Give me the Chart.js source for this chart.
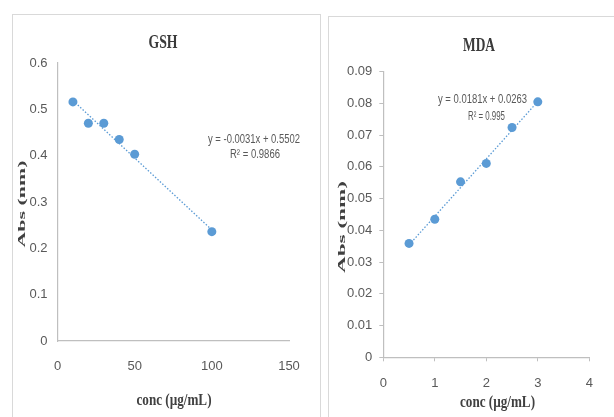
<!DOCTYPE html>
<html lang="en">
  <head>
    <meta charset="UTF-8" />
    <title>GSH and MDA calibration</title>
    <script src="https://cdn.jsdelivr.net/npm/chart.js@4.4.1/dist/chart.umd.min.js"></script>
    <style>
      html, body { margin: 0; padding: 0; background: #fff; }
      body { width: 614px; height: 417px; position: relative; overflow: hidden; }
      .panel { position: absolute; border: 1.5px solid #d9d9d9; border-bottom: none; }
      canvas { position: absolute; top: 0; }
    </style>
  </head>
  <body>
    <div class="panel" style="left:12px; top:14px; width:307px; height:420px;"></div>
    <div class="panel" style="left:328px; top:16px; width:300px; height:420px; border-right:none;"></div>
    <canvas id="gsh" width="322" height="417" style="left:0"></canvas>
    <canvas id="mda" width="292" height="417" style="left:322px"></canvas>

    <script>
      // GSH standard curve
      const gshConc = [10, 20, 30, 40, 50, 100];
      const gshAbs = [0.516, 0.470, 0.470, 0.435, 0.403, 0.236];
      const gshFitX = [10, 100];
      const gshFitY = [0.519, 0.240];
      const gshXTicks = [0, 50, 100, 150];
      const gshYTicks = [0, 0.1, 0.2, 0.3, 0.4, 0.5, 0.6];
      const gshEquation = ["y = -0.0031x + 0.5502", "R² = 0.9866"];

      // MDA standard curve
      const mdaConc = [0.5, 1, 1.5, 2, 2.5, 3];
      const mdaAbs = [0.0359, 0.0435, 0.0553, 0.0611, 0.0724, 0.0805];
      const mdaFitX = [0.5, 3];
      const mdaFitY = [0.0354, 0.0806];
      const mdaXTicks = [0, 1, 2, 3, 4];
      const mdaYTicks = [0, 0.01, 0.02, 0.03, 0.04, 0.05, 0.06, 0.07, 0.08, 0.09];
      const mdaEquation = ["y = 0.0181x + 0.0263", "R² = 0.995"];

      const blue = "#5b9bd5";
      const axisGray = "#bfbfbf";
      const tickFont = { family: "'Liberation Sans Narrow', 'Liberation Sans', sans-serif", size: 13 };

      // draws titles / equation; each text squeezed to the width
      const textPlugin = {
        id: "texts",
        afterDraw(chart, args, opts) {
          const ctx = chart.ctx;
          (opts.items || []).forEach((t) => {
            ctx.save();
            ctx.font = t.font;
            ctx.fillStyle = t.color;
            ctx.textAlign = "center";
            ctx.textBaseline = "middle";
            const w = ctx.measureText(t.text).width;
            ctx.translate(t.x, t.y);
            if (t.rotate) {
              ctx.rotate(-Math.PI / 2);
              ctx.scale(t.len / w, t.thick);
            } else {
              ctx.scale(t.len / w, 1);
            }
            ctx.fillText(t.text, 0, 0);
            ctx.restore();
          });
        },
      };

      function pts(xs, ys) {
        return xs.map((x, i) => ({ x: x, y: ys[i] }));
      }

      function makeChart(id, cfg) {
        return new Chart(document.getElementById(id), {
          type: "scatter",
          data: {
            datasets: [
              {
                data: pts(cfg.x, cfg.y),
                backgroundColor: blue,
                borderWidth: 0,
                pointRadius: 4.5,
                order: 1,
              },
              {
                type: "line",
                data: pts(cfg.fitX, cfg.fitY),
                borderColor: blue,
                borderWidth: 1.3,
                borderDash: [1.5, 1.8],
                pointRadius: 0,
                fill: false,
                order: 2,
              },
            ],
          },
          options: {
            responsive: false,
            animation: false,
            events: [],
            layout: { padding: cfg.padding },
            plugins: {
              legend: { display: false },
              tooltip: { enabled: false },
              texts: { items: cfg.texts },
            },
            scales: {
              x: {
                type: "linear",
                min: cfg.xTicks[0],
                max: cfg.xTicks[cfg.xTicks.length - 1],
                afterBuildTicks: (s) => { s.ticks = cfg.xTicks.map((v) => ({ value: v })); },
                afterFit: (s) => { s.height = cfg.xHeight; },
                border: { color: axisGray, width: 1.2 },
                grid: { drawOnChartArea: false, drawTicks: cfg.marks, tickLength: 4, color: axisGray },
                ticks: { font: tickFont, color: "#595959", padding: cfg.xPad, maxRotation: 0 },
              },
              y: {
                type: "linear",
                min: cfg.yTicks[0],
                max: cfg.yTicks[cfg.yTicks.length - 1],
                afterBuildTicks: (s) => { s.ticks = cfg.yTicks.map((v) => ({ value: v })); },
                afterFit: (s) => { s.width = cfg.yWidth; },
                border: { color: axisGray, width: 1.2 },
                grid: { drawOnChartArea: false, drawTicks: cfg.marks, tickLength: 4, color: axisGray },
                ticks: { font: tickFont, color: "#595959", padding: cfg.yPad },
              },
            },
          },
          plugins: [textPlugin],
        });
      }

      const titleFont = "bold 19px 'Liberation Serif', serif";
      const axisFont = "bold 16px 'Liberation Serif', serif";
      const eqFont = "12px 'Liberation Sans Narrow', 'Liberation Sans', sans-serif";

      makeChart("gsh", {
        x: gshConc, y: gshAbs, fitX: gshFitX, fitY: gshFitY,
        xTicks: gshXTicks, yTicks: gshYTicks,
        padding: { left: 0, top: 63, right: 33, bottom: 26 },
        yWidth: 57.5, xHeight: 50, marks: false, xPad: 18, yPad: 10,
        texts: [
          { text: "GSH", x: 163, y: 43.5, font: titleFont, color: "#3a3a3a", len: 29 },
          { text: "Abs (nm)", x: 22, y: 204, font: axisFont, color: "#404040", len: 87, rotate: true, thick: 0.65 },
          { text: "conc (µg/mL)", x: 174, y: 401, font: axisFont, color: "#404040", len: 75 },
          { text: gshEquation[0], x: 254, y: 140, font: eqFont, color: "#595959", len: 92 },
          { text: gshEquation[1], x: 255, y: 155, font: eqFont, color: "#595959", len: 50 },
        ],
      });

      makeChart("mda", {
        x: mdaConc, y: mdaAbs, fitX: mdaFitX, fitY: mdaFitY,
        xTicks: mdaXTicks, yTicks: mdaYTicks,
        padding: { left: 0, top: 71.7, right: 24.7, bottom: 19.7 },
        yWidth: 61.3, xHeight: 40, marks: true, xPad: 14, yPad: 7,
        texts: [
          { text: "MDA", x: 157, y: 46, font: titleFont, color: "#3a3a3a", len: 32 },
          { text: "Abs (nm)", x: 20.5, y: 227, font: axisFont, color: "#404040", len: 92, rotate: true, thick: 0.65 },
          { text: "conc (µg/mL)", x: 175.5, y: 403, font: axisFont, color: "#404040", len: 75 },
          { text: mdaEquation[0], x: 160.5, y: 100, font: eqFont, color: "#595959", len: 89 },
          { text: mdaEquation[1], x: 164.5, y: 116.5, font: eqFont, color: "#595959", len: 37 },
        ],
      });
    </script>
  </body>
</html>
